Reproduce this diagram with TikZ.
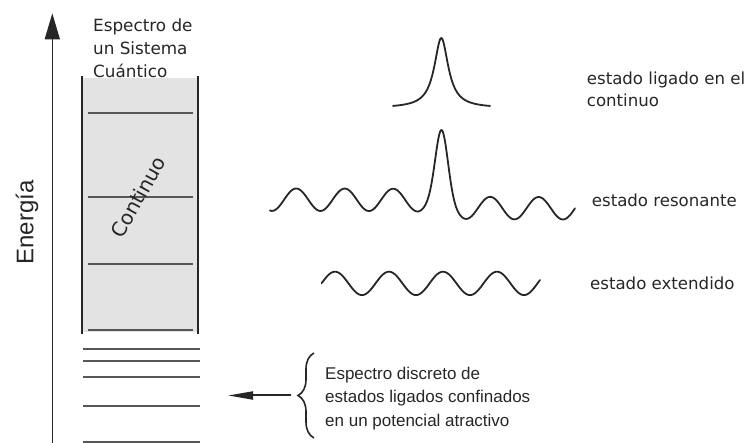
\documentclass[tikz,border=0pt]{standalone}
\usepackage{fontspec}
\setmainfont{DejaVu Sans}
\newfontfamily\fuentearial{Liberation Sans}
\usepackage{tikz}
\usetikzlibrary{positioning,arrows.meta,decorations.pathreplacing}
\definecolor{tinta}{HTML}{262626}
\definecolor{tintados}{HTML}{575757}
\definecolor{fondo}{HTML}{E3E3E3}

\begin{document}
\begin{tikzpicture}[
  x=1pt, y=-1pt,
  eje/.style={-{Triangle[length=26pt, width=15pt]}, tinta, line width=1.5pt},
  pared/.style={tinta, line width=1.9pt},
  nivel/.style={tintados, line width=2pt},
  onda/.style={tinta, line width=1.8pt, line join=round, line cap=round},
  etiqueta/.style={anchor=base west, inner sep=0pt, text=tinta, align=left,
    font=\fontsize{16.6}{21.5}\selectfont},
  llave/.style={decorate, decoration={brace, amplitude=16pt}, tinta, line width=1.6pt},
  flecha/.style={-{Triangle[length=25pt, width=8pt]}, tinta, line width=2pt}]
  \useasboundingbox (0,0) rectangle (748,443);
  % eje de energia
  \coordinate (base) at (52.3,445);
  \coordinate (tope) at (52.3,13.3);
  \draw[eje] (base) -- (tope);
  \node[rotate=90, anchor=base, inner sep=0pt, text=tinta,
    font=\fuentearial\fontsize{24}{24}\selectfont] (energia) at (33.3,222.5) {Energía};
  % espectro continuo
  \fill[fondo] (83,78.5) rectangle (197,332);
  \draw[pared] (82,76) -- (82,334);
  \draw[pared] (198,76) -- (198,334);
  \foreach \y in {113,197,264,330}
    \draw[nivel] (88,\y) -- (193,\y);
  \node[rotate=61, inner sep=0pt, text=tinta, font=\fontsize{20}{20}\selectfont] (continuo) at (138,197) {Continuo};
  \node[etiqueta, font=\fontsize{16.8}{23}\selectfont] (titulo) at (93,77.3) {Espectro de\\un Sistema\\Cuántico};
  % espectro discreto
  \foreach \y in {349,361,377,406,442}
    \draw[nivel] (83,\y) -- (200,\y);
  % estados
  \draw[onda] plot[domain=393:490, samples=120] (\x,{108-70*72/((\x-441.3)^2+72)});
  \draw[onda] plot[domain=270:575, samples=320]
    (\x,{204+4.4*atan((\x-441.7)/6)/90-11.2*cos(7.4227*(\x-441.7))-62.8*exp(-min(((\x-441.7)/8.485)^2,20))});
  \draw[onda] plot[domain=321.7:540, samples=200] (\x,{283.4-11.7*cos(6.6667*(\x-443))});
  \node[etiqueta] (ligado) at (586.7,106.5) {estado ligado en el\\continuo};
  \node[etiqueta] (resonante) at (591.7,206.7) {estado resonante};
  \node[etiqueta] (extendido) at (590,290) {estado extendido};
  % llave y texto
  \draw[llave] (314,438) -- (314,353) coordinate[midway, xshift=-16pt] (punta);
  \coordinate (fin) at (228,395.5);
  \draw[flecha, shorten <=7pt] (punta) -- (fin);
  \node[etiqueta, font=\fuentearial\fontsize{17}{23.5}\selectfont] (discreto) at (325,426.5)
    {Espectro discreto de\\estados ligados confinados\\en un potencial atractivo};
\end{tikzpicture}
\end{document}
